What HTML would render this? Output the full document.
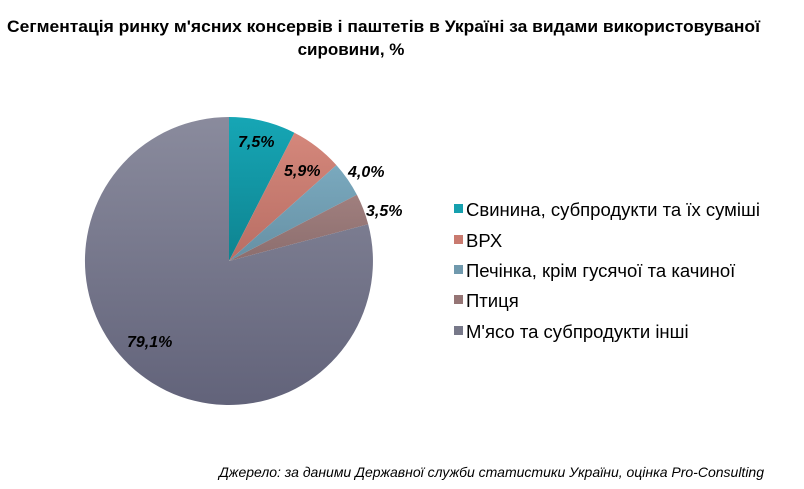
<!DOCTYPE html>
<html><head><meta charset="utf-8"><style>
body{margin:0;background:#fff;width:804px;height:484px;overflow:hidden;font-family:"Liberation Sans",Arial,sans-serif;}
</style></head><body>
<svg width="804" height="484" xmlns="http://www.w3.org/2000/svg" font-family="Liberation Sans, Arial, sans-serif">
<defs>
<linearGradient id="g1" x1="0" y1="0" x2="0" y2="1"><stop offset="0" stop-color="#16a6b5"/><stop offset="1" stop-color="#0e8390"/></linearGradient>
<linearGradient id="g2" x1="0" y1="0" x2="0" y2="1"><stop offset="0" stop-color="#d4877b"/><stop offset="1" stop-color="#b86e64"/></linearGradient>
<linearGradient id="g3" x1="0" y1="0" x2="0" y2="1"><stop offset="0" stop-color="#7aa9be"/><stop offset="1" stop-color="#6690a4"/></linearGradient>
<linearGradient id="g4" x1="0" y1="0" x2="0" y2="1"><stop offset="0" stop-color="#a07f7e"/><stop offset="1" stop-color="#8c6e6e"/></linearGradient>
<linearGradient id="g5" x1="0" y1="0" x2="0" y2="1"><stop offset="0" stop-color="#8a8b9d"/><stop offset="1" stop-color="#62637a"/></linearGradient>
</defs>
<text x="7" y="32" font-size="17" font-weight="bold" textLength="753" lengthAdjust="spacingAndGlyphs">Сегментація ринку м'ясних консервів і паштетів в Україні за видами використовуваної</text>
<text x="351" y="55" text-anchor="middle" font-size="17" font-weight="bold">сировини, %</text>
<path d="M229,261 L229,117 A144,144 0 0 1 294.4,132.7 Z" fill="url(#g1)"/>
<path d="M229,261 L294.4,132.7 A144,144 0 0 1 336.4,165.1 Z" fill="url(#g2)"/>
<path d="M229,261 L336.4,165.1 A144,144 0 0 1 356.9,194.8 Z" fill="url(#g3)"/>
<path d="M229,261 L356.9,194.8 A144,144 0 0 1 368.2,224.3 Z" fill="url(#g4)"/>
<path d="M229,261 L368.2,224.3 A144,144 0 1 1 229,117 Z" fill="url(#g5)"/>
<g font-size="16" font-weight="bold" font-style="italic">
<text x="238" y="147">7,5%</text>
<text x="284" y="176">5,9%</text>
<text x="348" y="177">4,0%</text>
<text x="366" y="216">3,5%</text>
<text x="127" y="347">79,1%</text>
</g>
<g font-size="18.5" fill="#000">
<rect x="454" y="204" width="9" height="9" fill="#16a0ae"/><text x="466" y="216">Свинина, субпродукти та їх суміші</text>
<rect x="454" y="235" width="9" height="9" fill="#c97a6f"/><text x="466" y="247">ВРХ</text>
<rect x="454" y="265" width="9" height="9" fill="#7099ad"/><text x="466" y="277">Печінка, крім гусячої та качиної</text>
<rect x="454" y="295" width="9" height="9" fill="#957575"/><text x="466" y="307">Птиця</text>
<rect x="454" y="326" width="9" height="9" fill="#777889"/><text x="466" y="338">М'ясо та субпродукти інші</text>
</g>
<text x="764" y="477" text-anchor="end" font-size="14" font-style="italic">Джерело: за даними Державної служби статистики України, оцінка Pro-Consulting</text>
</svg>
</body></html>
